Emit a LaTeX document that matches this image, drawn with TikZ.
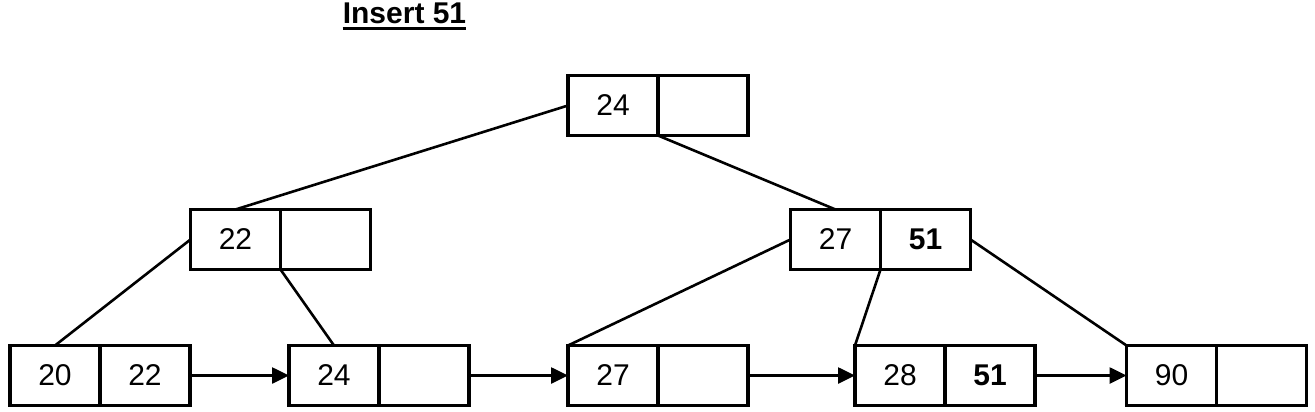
\documentclass[tikz,border=0pt]{standalone}
\usepackage{fontspec}
\setmainfont{Liberation Sans}
\usetikzlibrary{arrows.meta,positioning}

\begin{document}
\begin{tikzpicture}[
      x=1pt, y=-1pt,
      cell/.style={draw, line width=3.2pt, minimum width=90pt, minimum height=60pt,
        inner sep=0pt, outer sep=0pt, font=\fontsize{30}{33}\selectfont},
      link/.style={line width=2.6pt},
      next/.style={line width=2.6pt, -{Triangle[length=17pt, width=16pt]}}
    ]
    \useasboundingbox (0,0) rectangle (1315,412);
    % Title
    \node[inner sep=0pt, anchor=base, font=\fontsize{30}{33}\selectfont\bfseries] (title) at (404.5,23.5) {Insert 51};
    \draw[line width=2.8pt] ([yshift=-5pt]title.base west) -- ([yshift=-5pt]title.base east);
    % Root
    \node[cell] (r1) at (613,105.5) {24};
    \node[cell] (r2) at (703,105.5) {};
    % Inner nodes
    \node[cell] (p1) at (235.5,239.5) {22};
    \node[cell] (p2) at (325.5,239.5) {};
    \node[cell] (q1) at (835.5,239.5) {27};
    \node[cell] (q2) at (925.5,239.5) {\textbf{51}};
    % Leaves
    \node[cell] (a1) at (55,375.5) {20};
    \node[cell] (a2) at (145,375.5) {22};
    \node[cell] (b1) at (334,375.5) {24};
    \node[cell] (b2) at (424,375.5) {};
    \node[cell] (c1) at (613,375.5) {27};
    \node[cell] (c2) at (703,375.5) {};
    \node[cell] (d1) at (900,375.5) {28};
    \node[cell] (d2) at (990,375.5) {\textbf{51}};
    \node[cell] (e1) at (1171.5,375.5) {90};
    \node[cell] (e2) at (1261.5,375.5) {};
    % Tree edges
    \draw[link] (r1.west) -- (p1.north);
    \draw[link] (r1.south east) -- (q1.north);
    \draw[link] (p1.west) -- (a1.north);
    \draw[link] (p1.south east) -- (b1.north);
    \draw[link] (q1.west) -- (c1.north west);
    \draw[link] (q1.south east) -- (d1.north west);
    \draw[link] (q2.east) -- (e1.north west);
    % Leaf chain
    \draw[next] (a2.east) -- (b1.west);
    \draw[next] (b2.east) -- (c1.west);
    \draw[next] (c2.east) -- (d1.west);
    \draw[next] (d2.east) -- (e1.west);
  \end{tikzpicture}
\end{document}
